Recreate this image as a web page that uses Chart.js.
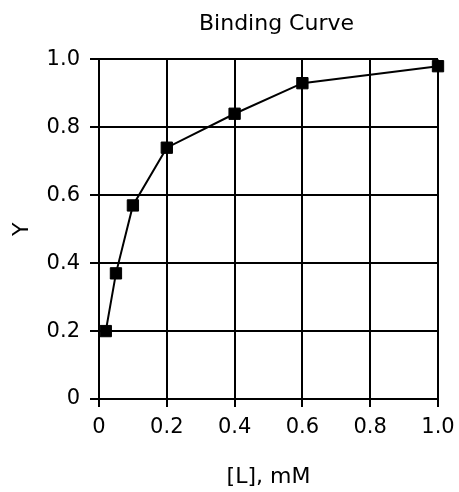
<!DOCTYPE html>
<html>
<head>
<meta charset="utf-8">
<title>Binding Curve</title>
<script src="https://cdn.jsdelivr.net/npm/chart.js@4.4.1/dist/chart.umd.min.js"></script>
<style>
  html, body { margin: 0; padding: 0; background: #fff; }
  #chart { display: block; }
</style>
</head>
<body>
<canvas id="chart" width="459" height="492"></canvas>
<script>
const ligandMM = [0.02, 0.05, 0.1, 0.2, 0.4, 0.6, 1.0];
const fractionBound = [0.2, 0.37, 0.57, 0.74, 0.84, 0.93, 0.98];
const xTickLabels = ['0', '0.2', '0.4', '0.6', '0.8', '1.0'];
const yTickLabels = ['0', '0.2', '0.4', '0.6', '0.8', '1.0'];

const font = 'DejaVu Sans';

// the title sits a little right of the plot centre in the original
const nudgeTitle = {
  id: 'nudgeTitle',
  afterLayout(chart) {
    if (chart.titleBlock) {
      chart.titleBlock.left += 8;
      chart.titleBlock.right += 8;
    }
  },
};

const ctx = document.getElementById('chart').getContext('2d');
new Chart(ctx, {
  type: 'scatter',
  data: {
    datasets: [{
      label: 'Y',
      data: ligandMM.map((x, i) => ({ x: x, y: fractionBound[i] })),
      showLine: true,
      borderColor: '#000',
      borderWidth: 2,
      backgroundColor: '#000',
      pointStyle: 'rect',
      pointRadius: 8,
      pointBorderWidth: 1,
      pointBorderColor: '#000',
      clip: false,
    }],
  },
  options: {
    responsive: false,
    animation: false,
    devicePixelRatio: 1,
    layout: { padding: { left: 0, right: 21, top: 0, bottom: 0 } },
    plugins: {
      legend: { display: false },
      tooltip: { enabled: false },
      title: {
        display: true,
        text: 'Binding Curve',
        color: '#000',
        fullSize: false,
        font: { family: font, size: 22, weight: 'normal' },
        padding: { top: 11, bottom: 22 },
      },
    },
    scales: {
      x: {
        type: 'linear',
        min: 0,
        max: 1,
        afterFit: scale => {
          scale.height = 93;
          scale.paddingLeft = 0;
          scale.paddingRight = 0;
        },
        ticks: {
          stepSize: 0.2,
          color: '#000',
          padding: 8,
          maxRotation: 0,
          font: { family: font, size: 21 },
          callback: (value, index) => xTickLabels[index],
        },
        grid: { color: '#000', lineWidth: 2, tickLength: 8 },
        border: { color: '#000', width: 2 },
        title: {
          display: true,
          text: '[L], mM',
          color: '#000',
          font: { family: font, size: 22 },
          padding: { top: 0, bottom: 2 },
        },
      },
      y: {
        type: 'linear',
        min: 0,
        max: 1,
        afterFit: scale => { scale.width = 99; },
        ticks: {
          stepSize: 0.2,
          color: '#000',
          padding: 10,
          font: { family: font, size: 21 },
          callback: (value, index) => yTickLabels[index],
        },
        grid: { color: '#000', lineWidth: 2, tickLength: 9 },
        border: { color: '#000', width: 2 },
        title: {
          display: true,
          text: 'Y',
          color: '#000',
          font: { family: font, size: 22 },
          padding: { top: 9, bottom: 0 },
        },
      },
    },
  },
  plugins: [nudgeTitle],
});
</script>
</body>
</html>
